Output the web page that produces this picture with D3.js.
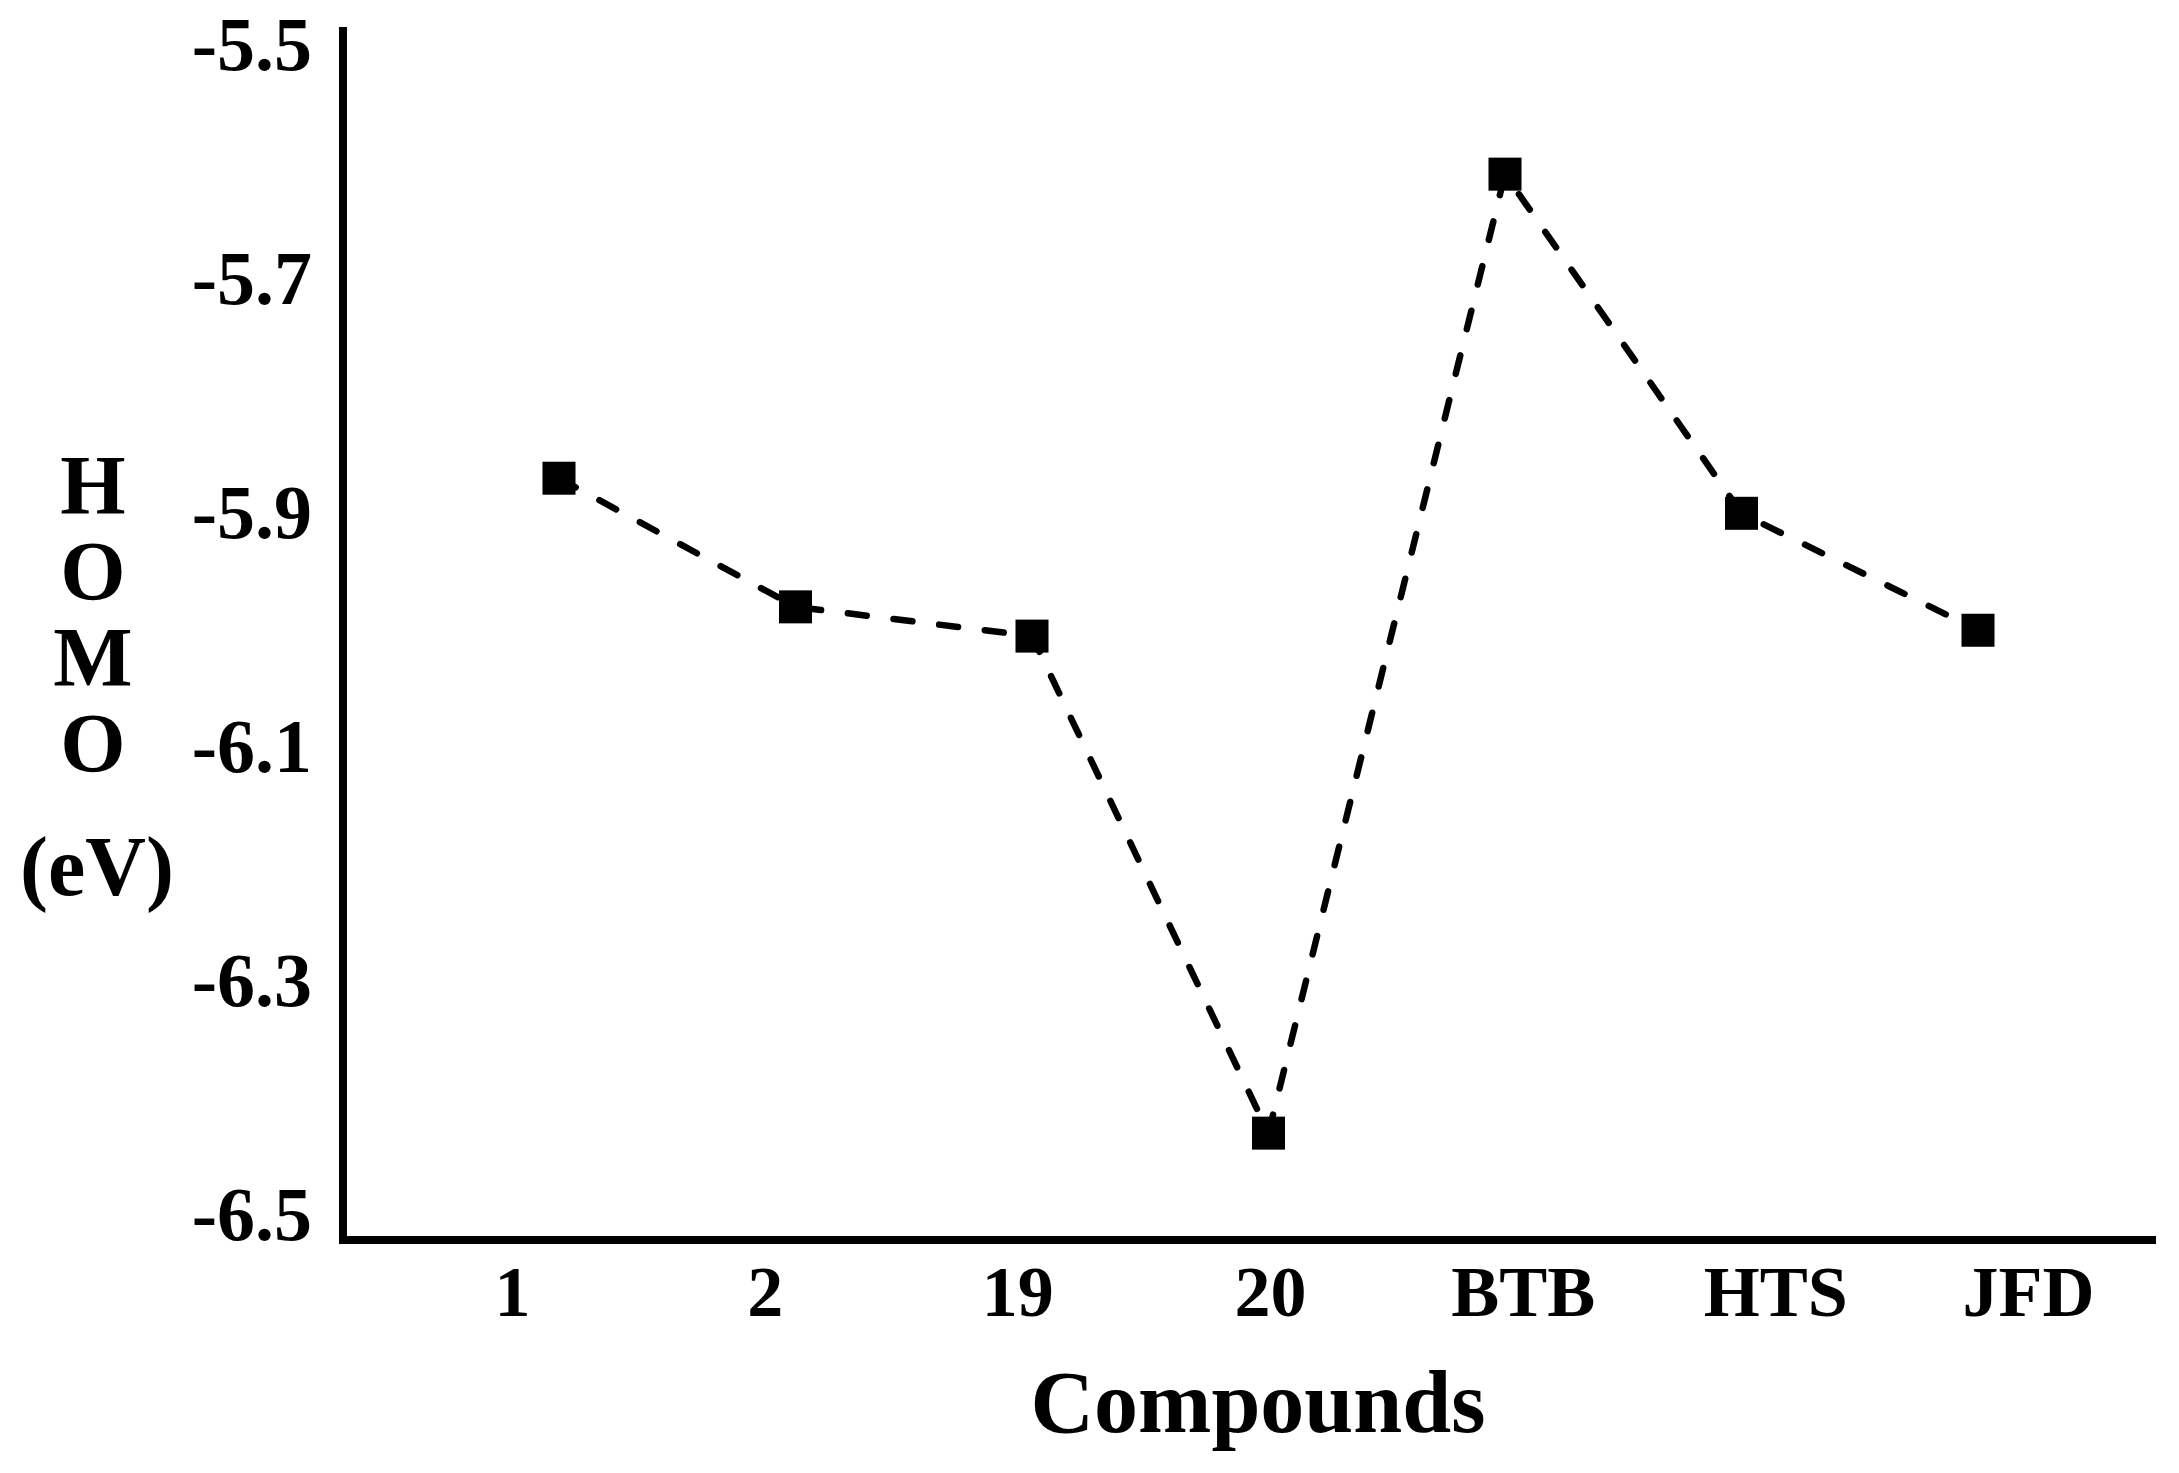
<!DOCTYPE html>
<html>
<head>
<meta charset="utf-8">
<script src="https://cdn.jsdelivr.net/npm/d3@7"></script>
<style>
  html, body { margin: 0; padding: 0; background: #ffffff; }
  svg { display: block; }
  text { font-family: "Liberation Serif", "Times New Roman", serif; font-weight: bold; fill: #000; }
</style>
</head>
<body>
<div id="chart"></div>
<script>
// data
var compounds = ["1", "2", "19", "20", "BTB", "HTS", "JFD"];
var homo = [-5.87, -5.98, -6.005, -6.43, -5.61, -5.90, -6.00];
var yTicks = [-5.5, -5.7, -5.9, -6.1, -6.3, -6.5];
var yLetters = ["H", "O", "M", "O"];

(function(element) {
    var W = 2179, H = 1473;
    var svg = d3.select(element).append("svg").attr("width", W).attr("height", H);
    svg.append("rect").attr("width", W).attr("height", H).attr("fill", "#fff");

    var yScale = d3.scaleLinear().domain([-6.5, -5.5]).range([1215, 45.5]);
    var xScale = d3.scalePoint().domain(compounds).range([559, 1978]);
    // category labels sit a little wider than the markers in the original
    var labelScale = d3.scalePoint().domain(compounds).range([512, 2028]);

    var axisX = 343, axisY = 1240;

    // axis frame
    svg.append("path")
        .attr("d", "M" + axisX + ",27 L" + axisX + "," + axisY + " L2156," + axisY)
        .attr("fill", "none").attr("stroke", "#000").attr("stroke-width", 8)
        .attr("stroke-linejoin", "miter");

    // y tick labels (plain hyphen like the original)
    var yAxis = d3.axisLeft(yScale).tickValues(yTicks).tickSize(0).tickPadding(0)
        .tickFormat(function(d) { return d.toFixed(1); });
    var gy = svg.append("g").attr("transform", "translate(312,0)").call(yAxis);
    gy.select(".domain").remove();
    gy.selectAll("text").attr("font-size", 76).attr("font-family", null);

    // x tick labels
    var xAxis = d3.axisBottom(labelScale).tickSize(0).tickPadding(0);
    var gx = svg.append("g").attr("transform", "translate(0,1265)").call(xAxis);
    gx.select(".domain").remove();
    gx.selectAll("text").attr("font-size", 72).attr("font-family", null);

    // dashed line
    var line = d3.line()
        .x(function(d, i) { return xScale(compounds[i]); })
        .y(function(d) { return yScale(d); });
    svg.append("path").datum(homo)
        .attr("d", line)
        .attr("fill", "none").attr("stroke", "#000").attr("stroke-width", 6.5)
        .attr("stroke-dasharray", "19,27").attr("stroke-linecap", "round");

    // square markers
    var size = 33;
    svg.selectAll("rect.pt").data(homo).enter().append("rect")
        .attr("class", "pt")
        .attr("x", function(d, i) { return xScale(compounds[i]) - size / 2; })
        .attr("y", function(d) { return yScale(d) - size / 2; })
        .attr("width", size).attr("height", size)
        .attr("fill", "#000");

    // axis titles
    svg.append("text").attr("x", 1258).attr("y", 1432)
        .attr("text-anchor", "middle").attr("font-size", 88).text("Compounds");

    svg.selectAll("text.ylet").data(yLetters).enter().append("text")
        .attr("class", "ylet")
        .attr("x", 93).attr("y", function(d, i) { return 514 + i * 86; })
        .attr("text-anchor", "middle").attr("font-size", 84)
        .text(function(d) { return d; });
    svg.append("text").attr("x", 97).attr("y", 895)
        .attr("text-anchor", "middle").attr("font-size", 84).text("(eV)");
})(document.getElementById("chart"));
</script>
</body>
</html>
